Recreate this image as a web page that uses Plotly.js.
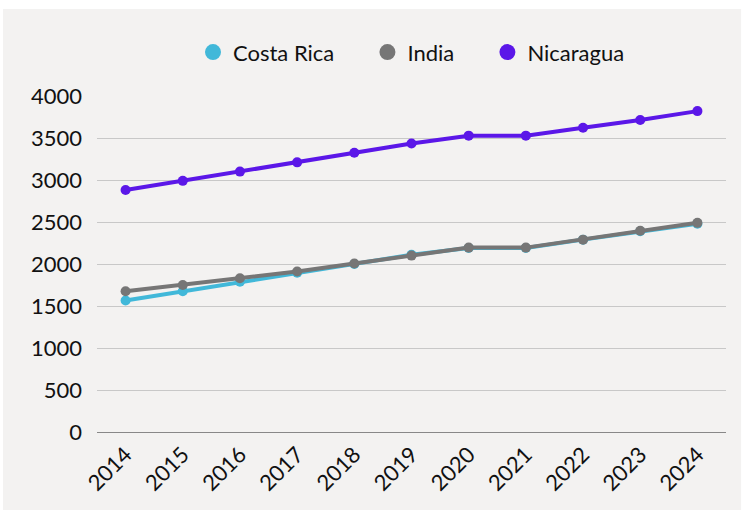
<!DOCTYPE html>
<html>
<head>
<meta charset="utf-8">
<script src="https://cdn.plot.ly/plotly-3.0.1.min.js"></script>
<style>html,body{margin:0;padding:0;background:#fff;}#chart{width:742px;height:513px;}</style>
</head>
<body>
<div id="chart"></div>
<script>
const years = ["2014","2015","2016","2017","2018","2019","2020","2021","2022","2023","2024"];
const costaRica = [1565, 1675, 1790, 1895, 2000, 2110, 2190, 2190, 2290, 2390, 2480];
const india = [1675, 1750, 1830, 1910, 2005, 2100, 2195, 2195, 2290, 2395, 2490];
const nicaragua = [2880, 2990, 3100, 3210, 3325, 3435, 3528, 3528, 3622, 3715, 3820];
const seriesNames = ["Costa Rica", "India", "Nicaragua"];
const colors = ["#41b8d9", "#767676", "#5b17e8"];
const values = [costaRica, india, nicaragua];

const traces = [];
values.forEach((v, i) => {
  traces.push({
    x: years, y: v, type: "scatter", mode: "lines+markers",
    name: seriesNames[i], showlegend: false,
    line: {color: colors[i], width: 4},
    marker: {color: colors[i], size: 10}
  });
});
const pad = "\u00a0\u00a0\u00a0\u00a0\u00a0";
seriesNames.forEach((n, i) => {
  traces.push({
    x: [null], y: [null], type: "scatter", mode: "markers",
    name: i < seriesNames.length - 1 ? n + pad : n, showlegend: true,
    marker: {color: colors[i], size: 22}
  });
});

const layout = {
  width: 742, height: 513,
  margin: {l: 97, r: 16, t: 96, b: 81},
  paper_bgcolor: "#ffffff",
  plot_bgcolor: "rgba(0,0,0,0)",
  font: {family: "Lato, 'Open Sans', sans-serif", size: 22, color: "#111"},
  showlegend: true,
  legend: {orientation: "h", x: 0.5, xanchor: "center", y: 1.13, yanchor: "middle",
           font: {size: 22, color: "#111"}, itemwidth: 30, bgcolor: "rgba(0,0,0,0)"},
  xaxis: {type: "category", range: [-0.5, 10.5], tickangle: -45, showgrid: false,
          showline: true, linecolor: "#888", linewidth: 1, ticks: "", zeroline: false,
          tickfont: {size: 22, color: "#111"}},
  yaxis: {range: [0, 4000], dtick: 500, showgrid: true, gridcolor: "#c8c8c8", gridwidth: 1,
          zeroline: false, showline: false, ticks: "", ticklabelstandoff: 14,
          tickfont: {size: 22, color: "#111"}},
  shapes: [{type: "rect", xref: "paper", yref: "paper", x0: -0.1494, x1: 1.024, y0: -0.232, y1: 1.259,
            fillcolor: "#f3f2f1", line: {width: 0}, layer: "below"}]
};
Plotly.newPlot("chart", traces, layout, {displayModeBar: false, staticPlot: true});
</script>
</body>
</html>
